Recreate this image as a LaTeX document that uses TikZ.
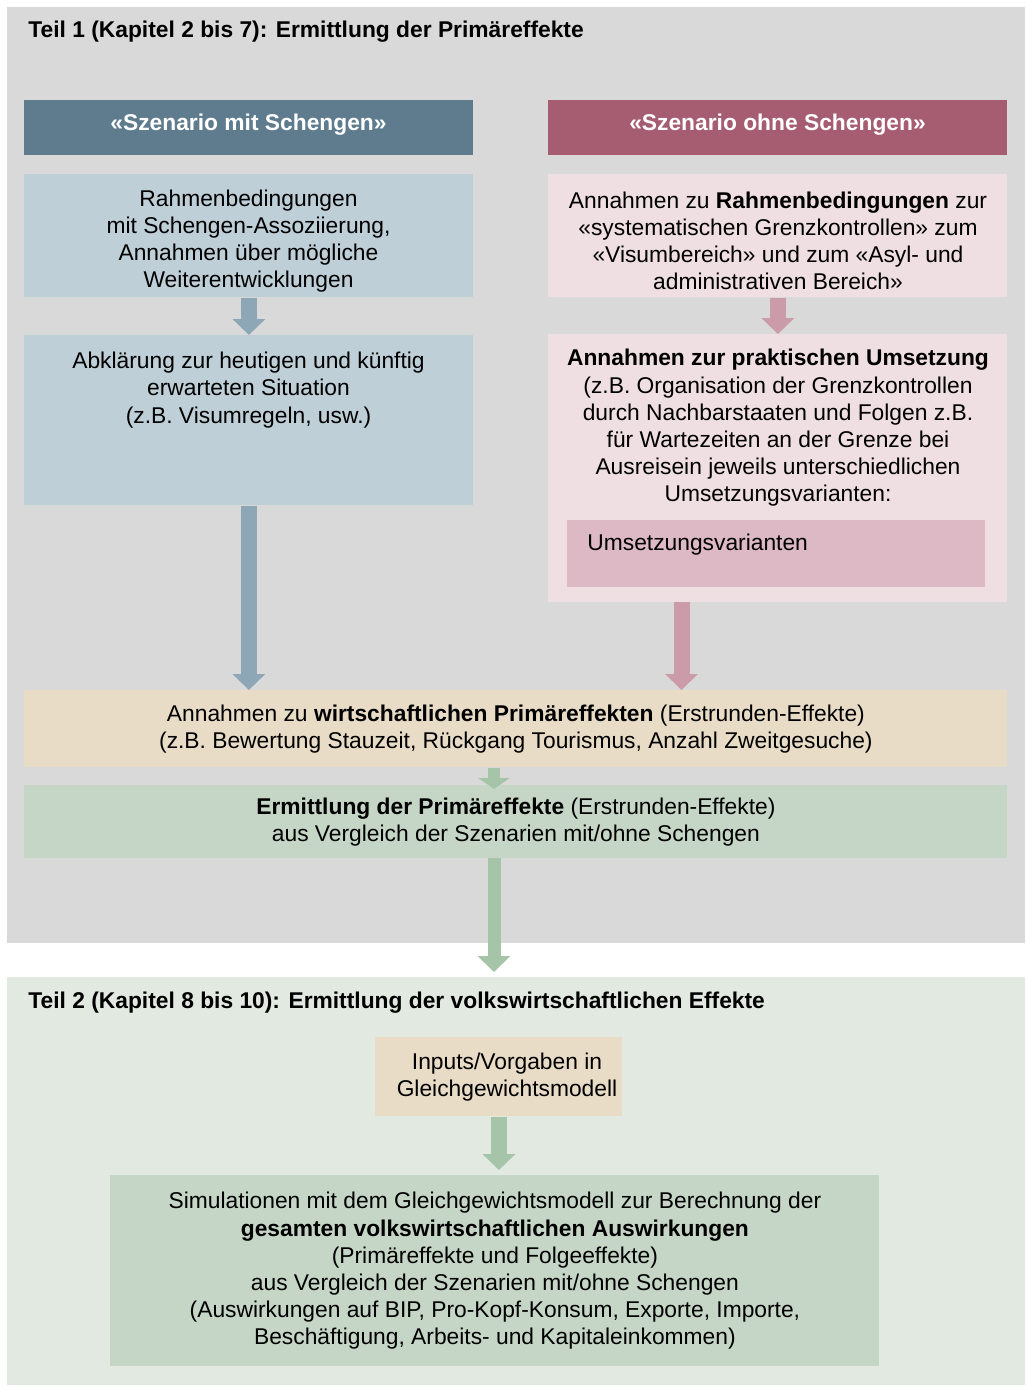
\documentclass[tikz,border=0pt]{standalone}
\usepackage{fontspec}
\setmainfont{Liberation Sans}
\usetikzlibrary{arrows.meta,positioning}

\definecolor{grau}{HTML}{D9D9D9}
\definecolor{hellgruen}{HTML}{E2E9E1}
\definecolor{kopfblau}{HTML}{5F7B8E}
\definecolor{kopfrot}{HTML}{A65C71}
\definecolor{boxblau}{HTML}{BFCFD7}
\definecolor{boxrosa}{HTML}{EFDFE3}
\definecolor{boxaltrosa}{HTML}{DDB9C5}
\definecolor{boxbeige}{HTML}{E9DCC6}
\definecolor{boxgruen}{HTML}{C5D6C6}
\definecolor{pfeilblau}{HTML}{8EA7B6}
\definecolor{pfeilrosa}{HTML}{CC9BAA}
\definecolor{pfeilgruen}{HTML}{A6C4A8}

\newcommand{\schrift}{\fontsize{11.4}{13.6}\selectfont}

\tikzset{
  box/.style={rectangle, inner sep=0pt, anchor=north west, align=center, font=\schrift},
  txt/.style={inner sep=0pt, align=center, font=\schrift},
  titel/.style={inner sep=0pt, anchor=west, font=\schrift\bfseries},
  kopf/.style={box, text=white, font=\schrift\bfseries},
  pfeil/.style={line width=8pt, -{Triangle[width=16pt,length=8pt]}},
}

\begin{document}
\begin{tikzpicture}[x=0.5pt,y=-0.5pt]
\useasboundingbox (0,0) rectangle (1025,1387);

% Teil 1
\node[box, fill=grau, minimum width=509pt, minimum height=468pt] (teil1) at (7,7) {};
\node[titel] (titel1) at (28,32) {Teil 1 (Kapitel 2 bis 7): Ermittlung der Primäreffekte};

\node[kopf, fill=kopfblau, minimum width=224.5pt, minimum height=27.5pt] (kopfmit) at (24,100) {};
\node[txt, text=white, font=\schrift\bfseries] (kopfmittext) at (248.5,125) {«Szenario mit Schengen»};
\node[kopf, fill=kopfrot, minimum width=229.5pt, minimum height=27.5pt] (kopfohne) at (548,100) {};
\node[txt, text=white, font=\schrift\bfseries] (kopfohnetext) at (777.5,125) {«Szenario ohne Schengen»};

% linke Spalte
\node[box, fill=boxblau, minimum width=224.5pt, minimum height=61.5pt] (mit1) at (24,174) {};
\node[txt] (mit1text) at (248.5,241)
  {Rahmenbedingungen\\ mit Schengen-Assoziierung,\\ Annahmen über mögliche\\ Weiterentwicklungen};
\node[box, fill=boxblau, minimum width=224.5pt, minimum height=85pt] (mit2) at (24,335) {};
\node[txt] (mit2text) at (248.5,390)
  {Abklärung zur heutigen und künftig\\ erwarteten Situation\\ (z.B. Visumregeln, usw.)};

% rechte Spalte
\node[box, fill=boxrosa, minimum width=229.5pt, minimum height=61.5pt] (ohne1) at (548,174) {};
\node[txt] (ohne1text) at (778,241)
  {Annahmen zu \textbf{Rahmenbedingungen} zur\\ «systematischen Grenzkontrollen» zum\\ «Visumbereich» und zum «Asyl- und\\ administrativen Bereich»};
\node[box, fill=boxrosa, minimum width=229.5pt, minimum height=134pt] (ohne2) at (548,334) {};
\node[txt] (ohne2text) at (778,428)
  {\textbf{Annahmen zur praktischen Umsetzung}\\ (z.B. Organisation der Grenzkontrollen\\ durch Nachbarstaaten und Folgen z.B.\\ für Wartezeiten an der Grenze bei\\ Ausreisein jeweils unterschiedlichen\\ Umsetzungsvarianten:};
\node[box, fill=boxaltrosa, minimum width=209pt, minimum height=33.5pt] (varianten) at (567,520) {};
\node[txt, anchor=west] (variantentext) at (587,545) {Umsetzungsvarianten};

% gemeinsame Kästen
\node[box, fill=boxbeige, minimum width=491.5pt, minimum height=38.5pt] (annahmen) at (24,690)
  {Annahmen zu \textbf{wirtschaftlichen Primäreffekten} (Erstrunden-Effekte)\\ (z.B. Bewertung Stauzeit, Rückgang Tourismus, Anzahl Zweitgesuche)};
\node[box, fill=boxgruen, minimum width=491.5pt, minimum height=36.5pt] (ermittlung) at (24,785)
  {\textbf{Ermittlung der Primäreffekte} (Erstrunden-Effekte)\\ aus Vergleich der Szenarien mit/ohne Schengen};

% Teil 2
\node[box, fill=hellgruen, minimum width=509pt, minimum height=204pt] (teil2) at (7,977) {};
\node[titel] (titel2) at (28,1003) {Teil 2 (Kapitel 8 bis 10): Ermittlung der volkswirtschaftlichen Effekte};

\node[box, fill=boxbeige, minimum width=123.5pt, minimum height=39.5pt] (inputs) at (375,1037) {};
\node[txt] (inputstext) at (507,1077) {Inputs/Vorgaben in\\ Gleichgewichtsmodell};
\node[box, fill=boxgruen, minimum width=384.5pt, minimum height=95.5pt] (simulation) at (110,1175)
  {Simulationen mit dem Gleichgewichtsmodell zur Berechnung der\\ \textbf{gesamten volkswirtschaftlichen Auswirkungen}\\ (Primäreffekte und Folgeeffekte)\\ aus Vergleich der Szenarien mit/ohne Schengen\\ (Auswirkungen auf BIP, Pro-Kopf-Konsum, Exporte, Importe,\\ Beschäftigung, Arbeits- und Kapitaleinkommen)};

% Pfeile
\coordinate (rechts) at (681.5,602);
\coordinate (mitte) at (494,858);
\draw[pfeil, pfeilblau] (mit1.south) -- (mit2.north);
\draw[pfeil, pfeilblau] (mit2.south) -- (mit2.south |- annahmen.north);
\draw[pfeil, pfeilrosa] (ohne1.south) -- (ohne2.north);
\draw[pfeil, pfeilrosa] (rechts) -- (rechts |- annahmen.north);
\draw[line width=6pt, pfeilgruen, -{Triangle[width=15.5pt,length=5.5pt]}, shorten >=-2pt]
  (annahmen.south -| mitte) -- (ermittlung.north -| mitte);
\draw[pfeil, pfeilgruen, line width=6.5pt, shorten >=2.5pt] (mitte) -- (teil2.north -| mitte);
\draw[pfeil, pfeilgruen, shorten >=2.5pt] (inputs.south) -- (simulation.north -| inputs.south);

\end{tikzpicture}
\end{document}
